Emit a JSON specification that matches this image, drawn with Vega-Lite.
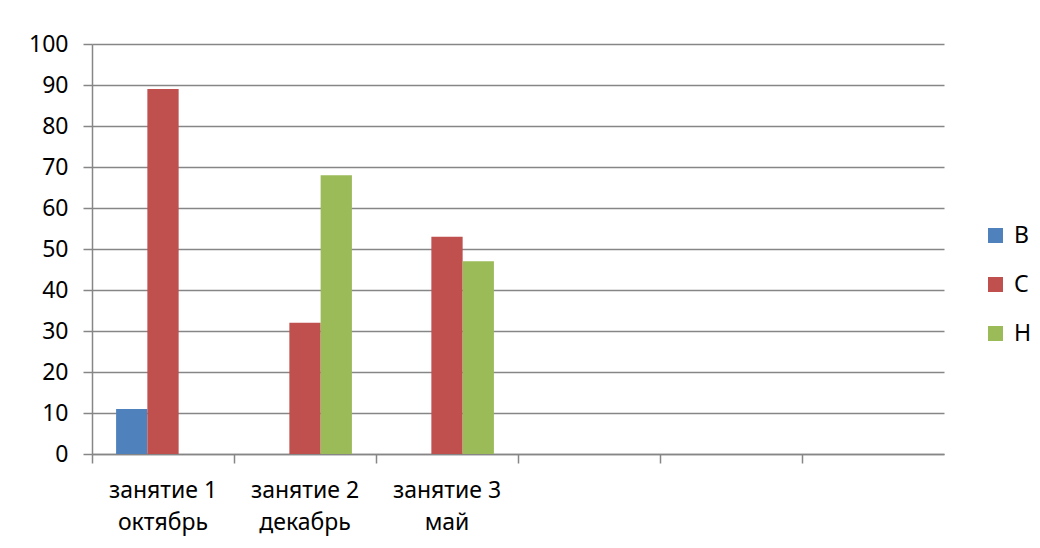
{
  "$schema": "https://vega.github.io/schema/vega-lite/v6.json",
  "width": 852,
  "height": 410,
  "autosize": {"type": "none"},
  "padding": {"left": 92, "top": 44, "right": 96, "bottom": 94},
  "background": "white",
  "config": {
    "font": "Noto Sans",
    "view": {"stroke": null}
  },
  "data": {
    "values": [
      {"cat": "занятие 1|октябрь", "series": "В", "value": 11},
      {"cat": "занятие 1|октябрь", "series": "С", "value": 89},
      {"cat": "занятие 2|декабрь", "series": "С", "value": 32},
      {"cat": "занятие 2|декабрь", "series": "Н", "value": 68},
      {"cat": "занятие 3|май", "series": "С", "value": 53},
      {"cat": "занятие 3|май", "series": "Н", "value": 47}
    ]
  },
  "mark": {"type": "bar"},
  "encoding": {
    "x": {
      "field": "cat",
      "type": "nominal",
      "scale": {
        "domain": ["занятие 1|октябрь", "занятие 2|декабрь", "занятие 3|май", "4", "5", "6"],
        "paddingInner": 0,
        "paddingOuter": 0
      },
      "axis": {
        "title": null,
        "labelAngle": 0,
        "bandPosition": 0,
        "labelExpr": "indexof(datum.label, '|') >= 0 ? split(datum.label, '|') : ''",
        "labelFontSize": 23,
        "labelColor": "#000000",
        "labelLineHeight": 32,
        "labelPadding": 16,
        "labelBaseline": "top",
        "tickSize": 9,
        "tickColor": "#868686",
        "tickWidth": 1.5,
        "domainColor": "#868686",
        "domainWidth": 1.5,
        "grid": false
      }
    },
    "xOffset": {
      "field": "series",
      "type": "nominal",
      "scale": {"domain": ["В", "С", "Н"], "paddingInner": 0, "paddingOuter": 0.77}
    },
    "y": {
      "field": "value",
      "type": "quantitative",
      "scale": {"domain": [0, 100], "nice": false},
      "axis": {
        "title": null,
        "values": [0, 10, 20, 30, 40, 50, 60, 70, 80, 90, 100],
        "labelFontSize": 23,
        "labelColor": "#000000",
        "labelPadding": 15,
        "tickSize": 9,
        "tickColor": "#868686",
        "tickWidth": 1.5,
        "domainColor": "#868686",
        "domainWidth": 1.5,
        "grid": true,
        "gridColor": "#868686",
        "gridWidth": 1.5
      }
    },
    "color": {
      "field": "series",
      "type": "nominal",
      "scale": {"domain": ["В", "С", "Н"], "range": ["#4F81BD", "#C0504D", "#9BBB59"]},
      "legend": {
        "title": null,
        "orient": "none",
        "legendX": 892,
        "legendY": 180,
        "symbolType": "square",
        "symbolSize": 225,
        "symbolStrokeWidth": 0,
        "labelFontSize": 23,
        "labelColor": "#000000",
        "labelOffset": 7,
        "rowPadding": 25
      }
    }
  }
}
